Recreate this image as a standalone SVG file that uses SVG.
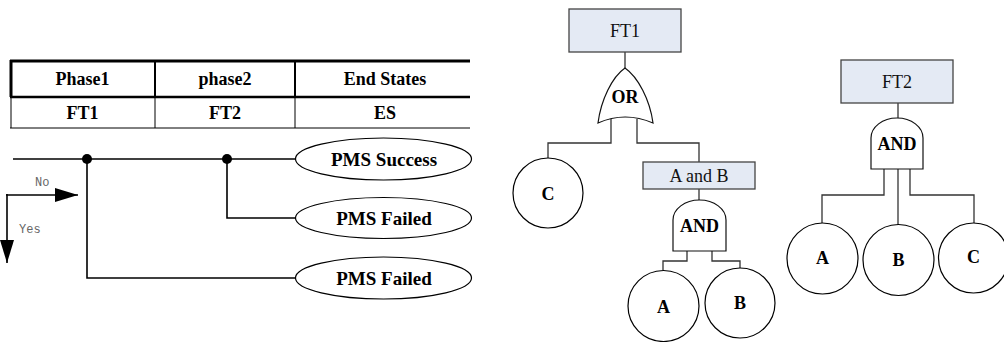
<svg xmlns="http://www.w3.org/2000/svg" width="1004" height="342" viewBox="0 0 1004 342">
<style>
.ln{fill:none;stroke:#000;stroke-width:1.6}
.fl{fill:none;stroke:#333;stroke-width:1.3}
.tb{font-family:"Liberation Serif","Times New Roman",serif;font-weight:bold;font-size:18px;text-anchor:middle;fill:#000}
.el{fill:#fff;stroke:#000;stroke-width:1.2}
.et{font-family:"Liberation Serif","Times New Roman",serif;font-weight:bold;font-size:19px;text-anchor:middle;fill:#000}
.sm{font-family:"Liberation Mono","DejaVu Sans Mono",monospace;font-size:12px;fill:#666}
.box{fill:#e4eaf4;stroke:#444;stroke-width:1.3}
.bt{font-family:"Liberation Serif","Times New Roman",serif;font-size:18px;text-anchor:middle;fill:#111}
.gate{fill:#fff;stroke:#111;stroke-width:1.2}
.gt{font-family:"Liberation Serif","Times New Roman",serif;font-weight:bold;font-size:18px;text-anchor:middle;fill:#000}
.cir{fill:#fff;stroke:#000;stroke-width:1.2}
</style>
<defs>
<marker id="ah" viewBox="0 0 23 14" refX="23" refY="7" markerWidth="23" markerHeight="14" markerUnits="userSpaceOnUse" orient="auto">
<path d="M0,0 L23,7 L0,14 Z" fill="#000"/>
</marker>
</defs>

<g id="table">
<line x1="10" y1="61" x2="470" y2="61" stroke="#000" stroke-width="3"/>
<line x1="10" y1="97" x2="470" y2="97" stroke="#000" stroke-width="2.4"/>
<line x1="10" y1="128" x2="470" y2="128" stroke="#000" stroke-width="1"/>
<line x1="11" y1="60" x2="11" y2="97" stroke="#000" stroke-width="3"/>
<line x1="11" y1="97" x2="11" y2="128" stroke="#000" stroke-width="1"/>
<line x1="155" y1="61" x2="155" y2="97" stroke="#000" stroke-width="2"/>
<line x1="155" y1="97" x2="155" y2="128" stroke="#000" stroke-width="1"/>
<line x1="295" y1="61" x2="295" y2="97" stroke="#000" stroke-width="2"/>
<line x1="295" y1="97" x2="295" y2="128" stroke="#000" stroke-width="1"/>
<text class="tb" x="82.5" y="85">Phase1</text>
<text class="tb" x="225" y="85">phase2</text>
<text class="tb" x="385" y="85">End States</text>
<text class="tb" x="82.5" y="119">FT1</text>
<text class="tb" x="225" y="119">FT2</text>
<text class="tb" x="385" y="119">ES</text>
</g>

<g id="connectors">
<path class="ln" d="M13,159 H295"/>
<path class="ln" d="M87,159 V278 H295"/>
<path class="ln" d="M227,159 V218 H295"/>
<circle cx="87" cy="159" r="5" fill="#000"/>
<circle cx="227" cy="159" r="5" fill="#000"/>
<path class="ln" d="M6,195 H78" marker-end="url(#ah)"/>
<path class="ln" d="M7,194 V263" marker-end="url(#ah)"/>
<path class="fl" d="M625,52 V68"/>
<path class="fl" d="M611,119 V143 H548 V158"/>
<path class="fl" d="M637,119 V143 H699 V162"/>
<path class="fl" d="M699,189 V200"/>
<path class="fl" d="M687,251 V261 H663 V270"/>
<path class="fl" d="M712,251 V261 H740 V268"/>
<path class="fl" d="M898,103 V118"/>
<path class="fl" d="M884,169 V195 H822 V223"/>
<path class="fl" d="M898,169 V225"/>
<path class="fl" d="M910,169 V195 H974 V223"/>
</g>

<g id="legend">
<text class="sm" x="35" y="186">No</text>
<text class="sm" x="19" y="233">Yes</text>
</g>

<g id="es-success">
<ellipse class="el" cx="383.5" cy="159" rx="88" ry="21"/>
<text class="et" x="384" y="165.5">PMS Success</text>
</g>
<g id="es-failed-1">
<ellipse class="el" cx="383.5" cy="218" rx="88" ry="20.5"/>
<text class="et" x="384" y="224.5">PMS Failed</text>
</g>
<g id="es-failed-2">
<ellipse class="el" cx="383.5" cy="278" rx="88" ry="21"/>
<text class="et" x="384" y="284.5">PMS Failed</text>
</g>

<g id="ft1">
<rect class="box" x="569" y="9" width="112" height="43"/>
<text class="bt" x="625" y="37">FT1</text>
</g>
<g id="or-gate">
<path class="gate" d="M625,68 C612,77 601,100 598,123 Q625,111 653,123 C650,100 638,77 625,68 Z"/>
<text class="gt" x="625" y="103">OR</text>
</g>
<g id="c1">
<circle class="cir" cx="548" cy="193" r="35"/>
<text class="gt" x="548" y="200">C</text>
</g>
<g id="aandb">
<rect class="box" x="643" y="162" width="112" height="27"/>
<text class="bt" x="699" y="182">A and B</text>
</g>
<g id="and-gate-1">
<path class="gate" d="M673,251 V220 A26.5,20 0 0 1 726,220 V251 Z"/>
<text class="gt" x="699.5" y="232">AND</text>
</g>
<g id="a1">
<circle class="cir" cx="663.5" cy="306" r="35.5"/>
<text class="gt" x="663.5" y="313">A</text>
</g>
<g id="b1">
<circle class="cir" cx="740" cy="303" r="35"/>
<text class="gt" x="740" y="309">B</text>
</g>

<g id="ft2">
<rect class="box" x="841" y="60" width="112" height="43"/>
<text class="bt" x="897" y="88">FT2</text>
</g>
<g id="and-gate-2">
<path class="gate" d="M871,169 V138 A26,20 0 0 1 923,138 V169 Z"/>
<text class="gt" x="897" y="150">AND</text>
</g>
<g id="a2">
<circle class="cir" cx="822.5" cy="258.5" r="35.5"/>
<text class="gt" x="822.5" y="264">A</text>
</g>
<g id="b2">
<circle class="cir" cx="898.5" cy="260" r="35.5"/>
<text class="gt" x="898.5" y="266">B</text>
</g>
<g id="c2">
<circle class="cir" cx="973.5" cy="258" r="35"/>
<text class="gt" x="973.5" y="263">C</text>
</g>
</svg>
